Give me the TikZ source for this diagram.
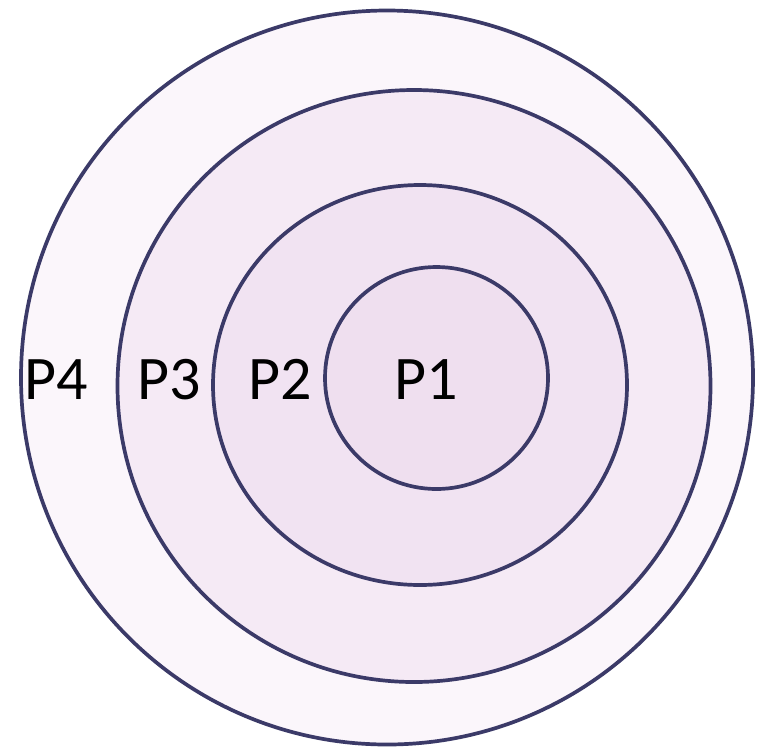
\documentclass[tikz,border=0pt]{standalone}
\usepackage{fontspec}
\setmainfont{Carlito}
\begin{document}
\begin{tikzpicture}[x=1pt,y=-1pt,
  ring/.style={draw=ringline, line width=3.7pt},
  lbl/.style={font=\fontsize{62}{70}\selectfont, text=black, inner sep=0pt, anchor=base}]
\definecolor{ringline}{HTML}{3B3A68}
\definecolor{fillA}{HTML}{FBF6FB}
\definecolor{fillB}{HTML}{F5EAF5}
\definecolor{fillC}{HTML}{F1E3F2}
\definecolor{fillD}{HTML}{EFDFEF}
\useasboundingbox (0,0) rectangle (762,748);
\fill[white] (0,0) rectangle (762,748);
\draw[ring, fill=fillA] (387,377.5) ellipse [x radius=366, y radius=367];
\draw[ring, fill=fillB] (414,386) ellipse [x radius=296.5, y radius=296];
\draw[ring, fill=fillC] (420,385) ellipse [x radius=207, y radius=200];
\draw[ring, fill=fillD] (436.5,378) ellipse [x radius=111.5, y radius=111];
\node[lbl] (p4) at (56.5,399) {P4};
\node[lbl] (p3) at (169,399) {P3};
\node[lbl] (p2) at (280,399) {P2};
\node[lbl] (p1) at (426,399) {P1};
\end{tikzpicture}
\end{document}
